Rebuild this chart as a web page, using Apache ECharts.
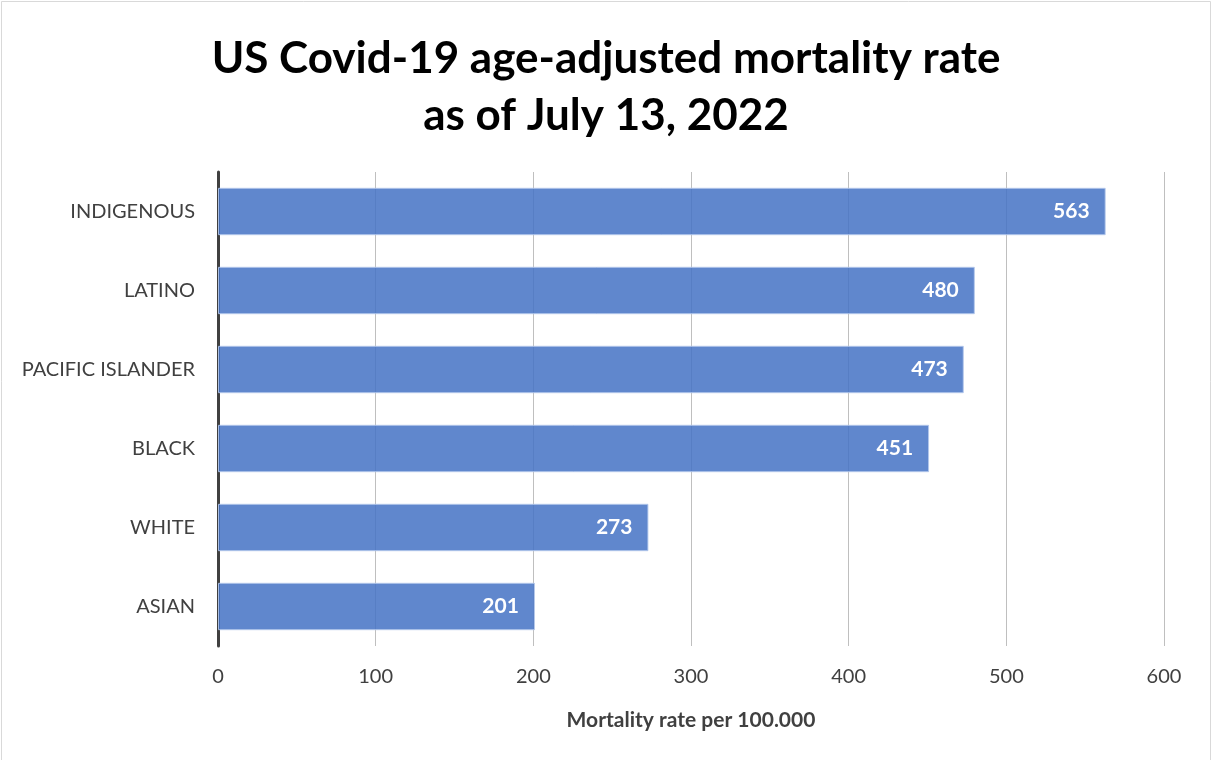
<!DOCTYPE html>
<html>
<head>
<meta charset="utf-8">
<script src="https://cdn.jsdelivr.net/npm/echarts@6/dist/echarts.min.js"></script>
<style>
html,body{margin:0;padding:0;background:#fff;}
#chart{width:1212px;height:760px;}
</style>
</head>
<body>
<div id="chart"></div>
<script>
const categories = ['INDIGENOUS', 'LATINO', 'PACIFIC ISLANDER', 'BLACK', 'WHITE', 'ASIAN'];
const values = [563, 480, 473, 451, 273, 201];
const xTicks = [0, 100, 200, 300, 400, 500, 600];
const titleLines = ['US Covid-19 age-adjusted mortality rate', 'as of July 13, 2022'];
const xAxisName = 'Mortality rate per 100.000';

const FONT = 'Lato';
const chart = echarts.init(document.getElementById('chart'), null, {renderer: 'canvas'});
chart.setOption({
  backgroundColor: '#ffffff',
  animation: false,
  graphic: [{
    type: 'rect',
    shape: {x: 1.5, y: 1.5, width: 1209, height: 800},
    style: {fill: 'none', stroke: '#d9d9d9', lineWidth: 1},
    silent: true
  }],
  title: {
    text: titleLines.join('\n'),
    left: 'center',
    top: 25,
    textStyle: {
      fontFamily: FONT,
      fontWeight: 'bold',
      fontSize: 44,
      lineHeight: 57,
      color: '#000000'
    }
  },
  grid: {left: 218, right: 48, top: 172, height: 474, containLabel: false},
  xAxis: {
    type: 'value',
    min: xTicks[0],
    max: xTicks[xTicks.length - 1],
    interval: 100,
    name: xAxisName,
    nameLocation: 'middle',
    nameGap: 64,
    nameTextStyle: {fontFamily: FONT, fontWeight: 'bold', fontSize: 21, color: '#404040'},
    axisLine: {show: false},
    axisTick: {show: false},
    axisLabel: {fontFamily: FONT, fontSize: 20, color: '#404040', margin: 21},
    splitLine: {show: true, lineStyle: {color: '#bfbfbf', width: 1}}
  },
  yAxis: {
    type: 'category',
    data: categories,
    inverse: true,
    axisLine: {show: true, onZero: false, lineStyle: {color: '#404040', width: 3}},
    axisTick: {show: false},
    axisLabel: {fontFamily: FONT, fontSize: 20, color: '#404040', margin: 23}
  },
  series: [{
    type: 'bar',
    data: values,
    barCategoryGap: '40%',
    z: 1,
    itemStyle: {
      color: 'rgba(68,114,196,0.85)',
      borderColor: 'rgba(180,200,235,0.9)',
      borderWidth: 1
    },
    label: {
      show: true,
      position: 'insideRight',
      distance: 16,
      fontFamily: FONT,
      fontWeight: 'bold',
      fontSize: 21,
      color: '#ffffff'
    }
  }]
});
</script>
</body>
</html>
